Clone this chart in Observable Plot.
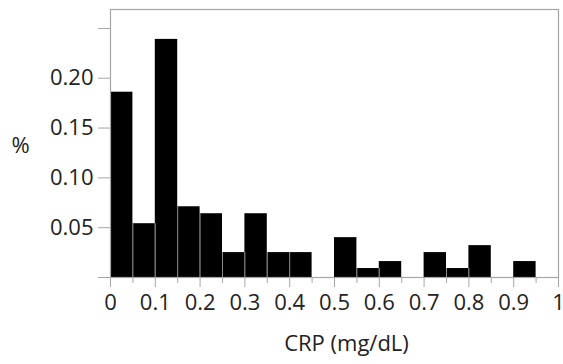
<!DOCTYPE html>
<html>
<head>
<meta charset="utf-8">
<script src="https://cdn.jsdelivr.net/npm/d3@7"></script>
<script src="https://cdn.jsdelivr.net/npm/@observablehq/plot@0.6"></script>
<style>
  html, body { margin: 0; padding: 0; background: #fff; }
  #chart svg { display: block; }
</style>
</head>
<body>
<div id="chart"></div>
<script>
// Bin lower edges (mg/dL) and the share of patients in each bin
const binStart = [0, 0.05, 0.1, 0.15, 0.2, 0.25, 0.3, 0.35, 0.4, 0.45,
                  0.5, 0.55, 0.6, 0.65, 0.7, 0.75, 0.8, 0.85, 0.9, 0.95];
const binShare = [0.186, 0.054, 0.239, 0.071, 0.064, 0.025, 0.064, 0.025, 0.025, 0,
                  0.040, 0.009, 0.016, 0, 0.025, 0.009, 0.032, 0, 0.016, 0];
const binWidth = 0.05;
const xTicks = [0, 0.1, 0.2, 0.3, 0.4, 0.5, 0.6, 0.7, 0.8, 0.9, 1];
const xMinorTicks = [0.05, 0.15, 0.25, 0.35, 0.45, 0.55, 0.65, 0.75, 0.85, 0.95];
const yTicks = [0, 0.05, 0.10, 0.15, 0.20, 0.25];
const yTickLabels = ["", "0.05", "0.10", "0.15", "0.20", ""];
const xTitle = "CRP (mg/dL)";
const yTitle = "%";

const bins = binStart.map((x, i) => ({x1: x, x2: x + binWidth, y: binShare[i]}));
// interior dividers between adjacent non-empty bars
const dividers = [];
for (let i = 1; i < bins.length; i++) {
  const h = Math.min(bins[i - 1].y, bins[i].y);
  if (h > 0) dividers.push({x: bins[i].x1, h});
}

const font = "'Open Sans', 'Noto Sans', sans-serif";
const gray = "#a6a6a6";

const chart = Plot.plot({
  width: 563,
  height: 364,
  marginLeft: 110,
  marginRight: 5,
  marginTop: 9,
  marginBottom: 87,
  style: {fontFamily: font, fontSize: "22px", color: "#222", background: "#fff"},
  x: {domain: [0, 1]},
  y: {domain: [0, 0.269]},
  marks: [
    Plot.rectY(bins, {x1: "x1", x2: "x2", y: "y", fill: "#000"}),
    Plot.ruleX(dividers, {x: "x", y1: 0, y2: "h", stroke: "#8c8c8c", strokeWidth: 1}),
    Plot.frame({stroke: gray, strokeWidth: 1.2}),
    Plot.axisY({
      ticks: yTicks, tickSize: 12, tickPadding: 5,
      tickFormat: (d, i) => yTickLabels[i],
      stroke: gray, label: null, fill: "#222"
    }),
    Plot.axisX({
      ticks: xTicks, tickSize: 10, tickPadding: 7,
      tickFormat: d => String(d),
      stroke: gray, label: null, fill: "#222"
    }),
    Plot.axisX({
      ticks: xMinorTicks, tickSize: 6, tickFormat: () => "",
      stroke: gray, label: null
    }),
    Plot.text([xTitle], {
      frameAnchor: "bottom", dx: 12, dy: 66, lineAnchor: "middle",
      fontSize: 22, fill: "#222", fontFamily: font
    }),
    Plot.text([yTitle], {
      frameAnchor: "left", dx: -90, dy: 2, textAnchor: "middle", lineAnchor: "middle",
      fontSize: 22, fill: "#222", fontFamily: font
    })
  ]
});
document.getElementById("chart").appendChild(chart);
</script>
</body>
</html>
